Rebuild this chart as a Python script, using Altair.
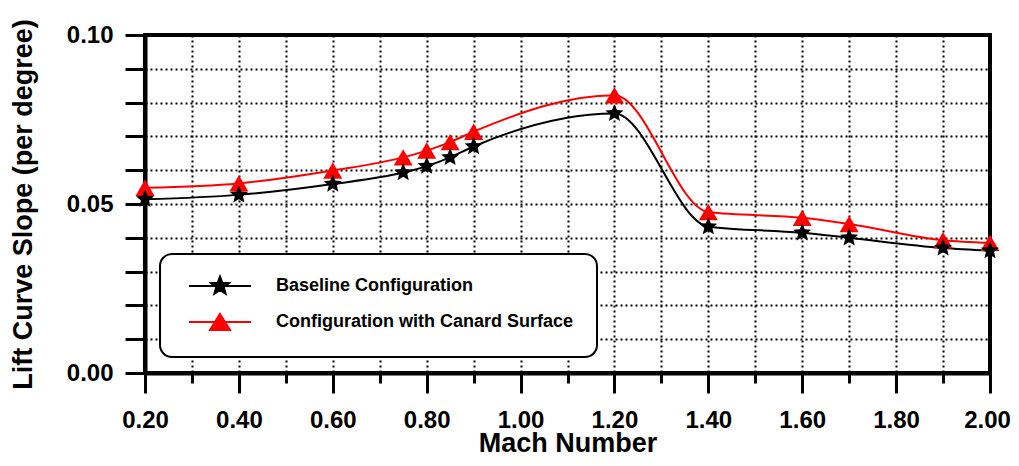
import math
import altair as alt
import pandas as pd

mach = [0.20, 0.40, 0.60, 0.75, 0.80, 0.85, 0.90, 1.20, 1.40, 1.60, 1.70, 1.90, 2.00]
baseline = [0.0514, 0.0527, 0.0559, 0.0593, 0.0612, 0.0638, 0.0670, 0.0768, 0.0433, 0.0415, 0.0400, 0.0370, 0.0362]
canard = [0.0548, 0.0561, 0.0599, 0.0638, 0.0658, 0.0683, 0.0714, 0.0822, 0.0476, 0.0459, 0.0441, 0.0393, 0.0385]
series_names = ["Baseline Configuration", "Configuration with Canard Surface"]
series_colors = ["#000000", "#ff0000"]
x_major = [0.2, 0.4, 0.6, 0.8, 1.0, 1.2, 1.4, 1.6, 1.8, 2.0]
x_minor = [0.3, 0.5, 0.7, 0.9, 1.1, 1.3, 1.5, 1.7, 1.9]
y_ticks = [0.0, 0.01, 0.02, 0.03, 0.04, 0.05, 0.06, 0.07, 0.08, 0.09, 0.10]

rows = []
for m, b, c in zip(mach, baseline, canard):
    rows.append({"mach": m, "value": b, "series": series_names[0]})
    rows.append({"mach": m, "value": c, "series": series_names[1]})
df = pd.DataFrame(rows)


def star_path(R, r):
    pts = []
    for k in range(10):
        a = math.radians(-90 + 36 * k)
        rad = R if k % 2 == 0 else r
        pts.append(f"{rad * math.cos(a):.3f},{rad * math.sin(a):.3f}")
    return "M" + "L".join(pts) + "Z"


line_seg = "M-6.2,0L6.2,0"
legend_shapes = [line_seg + star_path(1.9, 0.8), line_seg + "M0,-1.6L2,1.6L-2,1.6Z"]
plot_star = star_path(1.0, 0.45)

FONT = "Liberation Sans"
xs = alt.Scale(domain=[0.2, 2.0], nice=False, zero=False)
ys = alt.Scale(domain=[0, 0.1], nice=False)

x_main = alt.X(
    "mach:Q",
    scale=xs,
    axis=alt.Axis(
        title="Mach Number",
        orient="bottom",
        values=x_major,
        format=".2f",
        tickSize=20,
        labelPadding=15,
        labelOffset={"condition": {"test": "datum.value > 1.95", "value": -3}, "value": 0},
        titlePadding=-2,
        labelFontSize=24,
        titleFontSize=27,
        grid=True,
    ),
)
x_minor_enc = alt.X(
    "mach:Q",
    scale=xs,
    axis=alt.Axis(title=None, orient="bottom", values=x_minor, tickSize=10, labels=False, domain=False, grid=True),
)
x_none = alt.X("mach:Q", scale=xs, axis=None)
y_main = alt.Y(
    "value:Q",
    scale=ys,
    axis=alt.Axis(
        title="Lift Curve Slope (per degree)",
        values=y_ticks,
        labelExpr="round(datum.value*100) % 5 == 0 ? format(datum.value, '.2f') : ''",
        tickSize=20,
        labelPadding=12,
        titlePadding=29,
        labelFontSize=24,
        titleFontSize=27,
        grid=True,
    ),
)

base = alt.Chart(df)
b_data = base.transform_filter(alt.datum.series == series_names[0])
c_data = base.transform_filter(alt.datum.series == series_names[1])

layers = [
    b_data.mark_line(color=series_colors[0], strokeWidth=2, interpolate="monotone").encode(x=x_main, y=y_main),
    c_data.mark_line(color=series_colors[1], strokeWidth=2, interpolate="monotone").encode(x=x_minor_enc, y=y_main),
    c_data.mark_point(shape="triangle-up", filled=True, color=series_colors[1], size=361, opacity=1).encode(x=x_none, y=y_main),
    b_data.mark_point(shape=plot_star, filled=True, color=series_colors[0], size=360, opacity=1).encode(x=x_none, y=y_main),
]

legend_layer = base.transform_filter("datum.mach > 100").mark_point(filled=True, size=100, strokeWidth=2, opacity=1).encode(
    x=x_none,
    y=y_main,
    fill=alt.Fill("series:N", scale=alt.Scale(domain=series_names, range=series_colors), legend=alt.Legend(title=None)),
    stroke=alt.Stroke("series:N", scale=alt.Scale(domain=series_names, range=series_colors), legend=alt.Legend(title=None)),
    shape=alt.Shape("series:N", scale=alt.Scale(domain=series_names, range=legend_shapes), legend=alt.Legend(title=None)),
)
layers.append(legend_layer)

chart = (
    alt.layer(*layers)
    .resolve_axis(x="independent")
    .properties(
        width=845,
        height=338,
        autosize=alt.AutoSizeParams(type="none"),
        padding={"left": 137, "top": 27, "right": 21, "bottom": 82},
    )
    .configure_view(stroke="black", strokeWidth=4)
    .configure_axis(
        labelFont=FONT,
        titleFont=FONT,
        labelFontWeight="bold",
        titleFontWeight="bold",
        labelColor="black",
        titleColor="black",
        domainColor="black",
        domainWidth=4,
        tickColor="black",
        tickWidth=3,
        gridColor="black",
        gridDash=[2, 3],
        gridWidth=2,
        gridOpacity=1,
        labelFlush=False,
        labelOverlap=False,
    )
    .configure_legend(
        orient="none",
        legendX=15,
        legendY=219,
        padding=23,
        strokeColor="black",
        strokeWidth=2,
        cornerRadius=12,
        fillColor="white",
        labelFont=FONT,
        labelFontWeight="bold",
        labelFontSize=18,
        labelColor="black",
        labelLimit=500,
        symbolSize=100,
        symbolStrokeWidth=2,
        symbolOpacity=1,
        symbolOffset=28,
        labelOffset=47,
        rowPadding=12,
    )
)

chart.save("out.html", embed_options={"renderer": "svg", "actions": False})
